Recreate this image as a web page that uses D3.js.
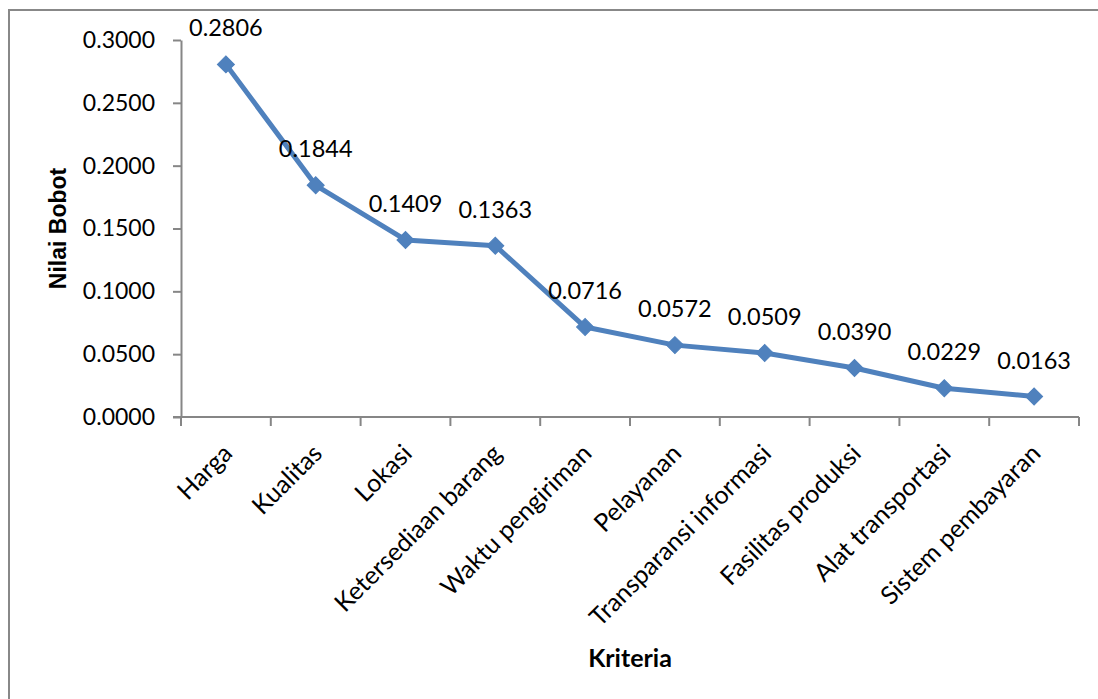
<!DOCTYPE html>
<html>
<head>
<meta charset="utf-8">
<script src="https://cdn.jsdelivr.net/npm/d3@7"></script>
<style>
  body { margin: 0; background: #fff; }
  svg { display: block; }
</style>
</head>
<body>
<svg id="chartSvg" width="1098" height="699"></svg>
<script>
// chart data
let kriteria = ["Harga", "Kualitas", "Lokasi", "Ketersediaan barang", "Waktu pengiriman",
    "Pelayanan", "Transparansi informasi", "Fasilitas produksi", "Alat transportasi", "Sistem pembayaran"];
let bobot = [0.2806, 0.1844, 0.1409, 0.1363, 0.0716, 0.0572, 0.0509, 0.0390, 0.0229, 0.0163];
let yTicks = [0, 0.05, 0.10, 0.15, 0.20, 0.25, 0.30];

function drawChart() {
    let canvas = d3.select("#chartSvg");

    let left = 181;
    let right = 1079;
    let top = 40;
    let bottom = 417;
    let font = "Lato, 'Open Sans', sans-serif";
    let blue = "#4F81BD";
    let axisGray = "#868686";

    let data = kriteria.map((k, i) => { return { name: k, value: bobot[i] }; });

    // outer chart border
    canvas.append("rect")
        .attr("x", 9)
        .attr("y", 10)
        .attr("width", 1200)
        .attr("height", 1000)
        .attr("fill", "none")
        .attr("stroke", "#888")
        .attr("stroke-width", 2);

    let x = d3.scaleBand()
        .domain(kriteria)
        .range([left, right]);
    let y = d3.scaleLinear()
        .domain([0, 0.3])
        .range([bottom, top]);

    let yAxis = d3.axisLeft(y)
        .tickValues(yTicks)
        .tickFormat(d3.format(".4f"))
        .tickSize(8)
        .tickSizeOuter(0)
        .tickPadding(18);

    let yG = canvas.append("g")
        .attr("id", "yAxis")
        .attr("transform", "translate(" + left + ",0)")
        .call(yAxis);
    yG.select(".domain").attr("stroke", axisGray).attr("stroke-width", 2);
    yG.selectAll(".tick line").attr("stroke", axisGray).attr("stroke-width", 2);
    yG.selectAll(".tick text")
        .attr("fill", "#000")
        .attr("font-family", font)
        .attr("font-size", 23);

    // x axis line + ticks between categories
    let xG = canvas.append("g").attr("id", "xAxis");
    xG.append("line")
        .attr("x1", left - 8).attr("x2", right)
        .attr("y1", bottom).attr("y2", bottom)
        .attr("stroke", axisGray)
        .attr("stroke-width", 2);
    let tickPos = kriteria.map(k => x(k)).concat([right]);
    xG.selectAll(".xtick").data(tickPos).enter()
        .append("line")
        .attr("class", "xtick")
        .attr("x1", d => d).attr("x2", d => d)
        .attr("y1", bottom).attr("y2", bottom + 9)
        .attr("stroke", axisGray)
        .attr("stroke-width", 2);
    xG.selectAll(".xlabel").data(kriteria).enter()
        .append("text")
        .attr("class", "xlabel")
        .attr("text-anchor", "end")
        .attr("font-family", font)
        .attr("font-size", 25)
        .attr("transform", d => "translate(" + (x(d) + x.bandwidth() / 2 + 8) + "," + (bottom + 38) + ") rotate(-45)")
        .text(d => d);

    // line + markers
    let line = d3.line()
        .x(d => x(d.name) + x.bandwidth() / 2)
        .y(d => y(d.value));

    canvas.append("path")
        .datum(data)
        .attr("fill", "none")
        .attr("stroke", blue)
        .attr("stroke-width", 5)
        .attr("stroke-linejoin", "round")
        .attr("d", line);

    canvas.selectAll(".marker").data(data).enter()
        .append("path")
        .attr("class", "marker")
        .attr("d", d3.symbol().type(d3.symbolSquare).size(145))
        .attr("transform", d => "translate(" + (x(d.name) + x.bandwidth() / 2) + "," + y(d.value) + ") rotate(45)")
        .attr("fill", blue)
        .attr("stroke", blue)
        .attr("stroke-width", 1);

    canvas.selectAll(".dataLabel").data(data).enter()
        .append("text")
        .attr("class", "dataLabel")
        .attr("text-anchor", "middle")
        .attr("font-family", font)
        .attr("font-size", 23.5)
        .attr("x", d => x(d.name) + x.bandwidth() / 2)
        .attr("y", d => y(d.value) - 28)
        .text(d => d3.format(".4f")(d.value));

    // axis titles
    canvas.append("text")
        .attr("id", "xLabel")
        .attr("text-anchor", "middle")
        .attr("x", (left + right) / 2)
        .attr("y", 667)
        .attr("font-family", font)
        .attr("font-weight", "bold")
        .attr("font-size", 25)
        .text("Kriteria");

    canvas.append("text")
        .attr("id", "yLabel")
        .attr("text-anchor", "middle")
        .attr("transform", "translate(66," + ((top + bottom) / 2) + ") rotate(-90)")
        .attr("font-family", "'Liberation Sans', Arial, sans-serif")
        .attr("font-weight", "bold")
        .attr("font-size", 23)
        .text("Nilai Bobot");
}

drawChart();
</script>
</body>
</html>
